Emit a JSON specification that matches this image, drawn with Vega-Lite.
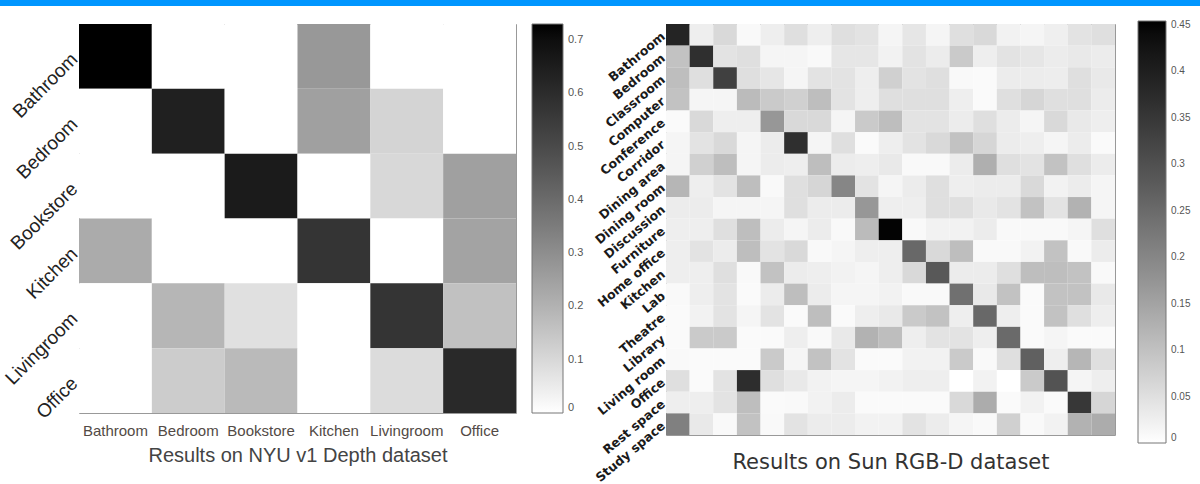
{
"$schema": "https://vega.github.io/schema/vega-lite/v6.json",
"padding": 0,
"background": "white",
"columns": 1,
"spacing": 14,
"config": {"font": "Liberation Sans", "view": {"stroke": "#999"}, "axis": {"grid": false}},
"datasets": {
"strip": [{"k": 1}],
"nyu": [
{"r":"Bathroom","c":"Bathroom","v":0.73},{"r":"Bathroom","c":"Bedroom","v":0},{"r":"Bathroom","c":"Bookstore","v":0},{"r":"Bathroom","c":"Kitchen","v":0.27},{"r":"Bathroom","c":"Livingroom","v":0},{"r":"Bathroom","c":"Office","v":0},
{"r":"Bedroom","c":"Bathroom","v":0},{"r":"Bedroom","c":"Bedroom","v":0.64},{"r":"Bedroom","c":"Bookstore","v":0},{"r":"Bedroom","c":"Kitchen","v":0.25},{"r":"Bedroom","c":"Livingroom","v":0.11},{"r":"Bedroom","c":"Office","v":0},
{"r":"Bookstore","c":"Bathroom","v":0},{"r":"Bookstore","c":"Bedroom","v":0},{"r":"Bookstore","c":"Bookstore","v":0.66},{"r":"Bookstore","c":"Kitchen","v":0},{"r":"Bookstore","c":"Livingroom","v":0.1},{"r":"Bookstore","c":"Office","v":0.25},
{"r":"Kitchen","c":"Bathroom","v":0.22},{"r":"Kitchen","c":"Bedroom","v":0},{"r":"Kitchen","c":"Bookstore","v":0},{"r":"Kitchen","c":"Kitchen","v":0.57},{"r":"Kitchen","c":"Livingroom","v":0},{"r":"Kitchen","c":"Office","v":0.24},
{"r":"Livingroom","c":"Bathroom","v":0},{"r":"Livingroom","c":"Bedroom","v":0.19},{"r":"Livingroom","c":"Bookstore","v":0.08},{"r":"Livingroom","c":"Kitchen","v":0},{"r":"Livingroom","c":"Livingroom","v":0.57},{"r":"Livingroom","c":"Office","v":0.16},
{"r":"Office","c":"Bathroom","v":0},{"r":"Office","c":"Bedroom","v":0.13},{"r":"Office","c":"Bookstore","v":0.18},{"r":"Office","c":"Kitchen","v":0},{"r":"Office","c":"Livingroom","v":0.09},{"r":"Office","c":"Office","v":0.61}
],
"sun": [
{"r":"Bathroom","c":"Bathroom","v":0.39},{"r":"Bathroom","c":"Bedroom","v":0.027},{"r":"Bathroom","c":"Classroom","v":0.06},{"r":"Bathroom","c":"Computer","v":0.01},{"r":"Bathroom","c":"Conference","v":0.027},{"r":"Bathroom","c":"Corridor","v":0.05},{"r":"Bathroom","c":"Dining area","v":0.027},{"r":"Bathroom","c":"Dining room","v":0.05},{"r":"Bathroom","c":"Discussion","v":0.045},{"r":"Bathroom","c":"Furniture","v":0.015},{"r":"Bathroom","c":"Home office","v":0.04},{"r":"Bathroom","c":"Kitchen","v":0.015},{"r":"Bathroom","c":"Lab","v":0.05},{"r":"Bathroom","c":"Theatre","v":0.06},{"r":"Bathroom","c":"Library","v":0.02},{"r":"Bathroom","c":"Living room","v":0.015},{"r":"Bathroom","c":"Office","v":0.025},{"r":"Bathroom","c":"Rest space","v":0.045},{"r":"Bathroom","c":"Study space","v":0.05},
{"r":"Bedroom","c":"Bathroom","v":0.098},{"r":"Bedroom","c":"Bedroom","v":0.366},{"r":"Bedroom","c":"Classroom","v":0.045},{"r":"Bedroom","c":"Computer","v":0.05},{"r":"Bedroom","c":"Conference","v":0.015},{"r":"Bedroom","c":"Corridor","v":0.015},{"r":"Bedroom","c":"Dining area","v":0.01},{"r":"Bedroom","c":"Dining room","v":0.04},{"r":"Bedroom","c":"Discussion","v":0.04},{"r":"Bedroom","c":"Furniture","v":0.02},{"r":"Bedroom","c":"Home office","v":0.045},{"r":"Bedroom","c":"Kitchen","v":0.03},{"r":"Bedroom","c":"Lab","v":0.085},{"r":"Bedroom","c":"Theatre","v":0.027},{"r":"Bedroom","c":"Library","v":0.045},{"r":"Bedroom","c":"Living room","v":0.04},{"r":"Bedroom","c":"Office","v":0.03},{"r":"Bedroom","c":"Rest space","v":0.035},{"r":"Bedroom","c":"Study space","v":0.03},
{"r":"Classroom","c":"Bathroom","v":0.105},{"r":"Classroom","c":"Bedroom","v":0.05},{"r":"Classroom","c":"Classroom","v":0.33},{"r":"Classroom","c":"Computer","v":0.05},{"r":"Classroom","c":"Conference","v":0.04},{"r":"Classroom","c":"Corridor","v":0.015},{"r":"Classroom","c":"Dining area","v":0.045},{"r":"Classroom","c":"Dining room","v":0.045},{"r":"Classroom","c":"Discussion","v":0.027},{"r":"Classroom","c":"Furniture","v":0.075},{"r":"Classroom","c":"Home office","v":0.045},{"r":"Classroom","c":"Kitchen","v":0.05},{"r":"Classroom","c":"Lab","v":0.01},{"r":"Classroom","c":"Theatre","v":0.008},{"r":"Classroom","c":"Library","v":0.03},{"r":"Classroom","c":"Living room","v":0.03},{"r":"Classroom","c":"Office","v":0.028},{"r":"Classroom","c":"Rest space","v":0.05},{"r":"Classroom","c":"Study space","v":0.035},
{"r":"Computer","c":"Bathroom","v":0.098},{"r":"Computer","c":"Bedroom","v":0.015},{"r":"Computer","c":"Classroom","v":0.015},{"r":"Computer","c":"Computer","v":0.11},{"r":"Computer","c":"Conference","v":0.085},{"r":"Computer","c":"Corridor","v":0.075},{"r":"Computer","c":"Dining area","v":0.105},{"r":"Computer","c":"Dining room","v":0.045},{"r":"Computer","c":"Discussion","v":0.027},{"r":"Computer","c":"Furniture","v":0.05},{"r":"Computer","c":"Home office","v":0.05},{"r":"Computer","c":"Kitchen","v":0.05},{"r":"Computer","c":"Lab","v":0.027},{"r":"Computer","c":"Theatre","v":0.008},{"r":"Computer","c":"Library","v":0.05},{"r":"Computer","c":"Living room","v":0.065},{"r":"Computer","c":"Office","v":0.05},{"r":"Computer","c":"Rest space","v":0.05},{"r":"Computer","c":"Study space","v":0.03},
{"r":"Conference","c":"Bathroom","v":0.008},{"r":"Conference","c":"Bedroom","v":0.06},{"r":"Conference","c":"Classroom","v":0.027},{"r":"Conference","c":"Computer","v":0.027},{"r":"Conference","c":"Conference","v":0.17},{"r":"Conference","c":"Corridor","v":0.06},{"r":"Conference","c":"Dining area","v":0.06},{"r":"Conference","c":"Dining room","v":0.015},{"r":"Conference","c":"Discussion","v":0.085},{"r":"Conference","c":"Furniture","v":0.105},{"r":"Conference","c":"Home office","v":0.045},{"r":"Conference","c":"Kitchen","v":0.045},{"r":"Conference","c":"Lab","v":0.03},{"r":"Conference","c":"Theatre","v":0.05},{"r":"Conference","c":"Library","v":0.03},{"r":"Conference","c":"Living room","v":0.015},{"r":"Conference","c":"Office","v":0.06},{"r":"Conference","c":"Rest space","v":0.035},{"r":"Conference","c":"Study space","v":0.027},
{"r":"Corridor","c":"Bathroom","v":0.015},{"r":"Corridor","c":"Bedroom","v":0.045},{"r":"Corridor","c":"Classroom","v":0.06},{"r":"Corridor","c":"Computer","v":0.015},{"r":"Corridor","c":"Conference","v":0.03},{"r":"Corridor","c":"Corridor","v":0.366},{"r":"Corridor","c":"Dining area","v":0.015},{"r":"Corridor","c":"Dining room","v":0.05},{"r":"Corridor","c":"Discussion","v":0.008},{"r":"Corridor","c":"Furniture","v":0.027},{"r":"Corridor","c":"Home office","v":0.045},{"r":"Corridor","c":"Kitchen","v":0.06},{"r":"Corridor","c":"Lab","v":0.098},{"r":"Corridor","c":"Theatre","v":0.065},{"r":"Corridor","c":"Library","v":0.03},{"r":"Corridor","c":"Living room","v":0.027},{"r":"Corridor","c":"Office","v":0.015},{"r":"Corridor","c":"Rest space","v":0.03},{"r":"Corridor","c":"Study space","v":0.008},
{"r":"Dining area","c":"Bathroom","v":0.015},{"r":"Dining area","c":"Bedroom","v":0.075},{"r":"Dining area","c":"Classroom","v":0.105},{"r":"Dining area","c":"Computer","v":0.015},{"r":"Dining area","c":"Conference","v":0.03},{"r":"Dining area","c":"Corridor","v":0.027},{"r":"Dining area","c":"Dining area","v":0.105},{"r":"Dining area","c":"Dining room","v":0.03},{"r":"Dining area","c":"Discussion","v":0.027},{"r":"Dining area","c":"Furniture","v":0.035},{"r":"Dining area","c":"Home office","v":0.01},{"r":"Dining area","c":"Kitchen","v":0.01},{"r":"Dining area","c":"Lab","v":0.03},{"r":"Dining area","c":"Theatre","v":0.13},{"r":"Dining area","c":"Library","v":0.05},{"r":"Dining area","c":"Living room","v":0.045},{"r":"Dining area","c":"Office","v":0.098},{"r":"Dining area","c":"Rest space","v":0.05},{"r":"Dining area","c":"Study space","v":0.03},
{"r":"Dining room","c":"Bathroom","v":0.118},{"r":"Dining room","c":"Bedroom","v":0.027},{"r":"Dining room","c":"Classroom","v":0.045},{"r":"Dining room","c":"Computer","v":0.105},{"r":"Dining room","c":"Conference","v":0.01},{"r":"Dining room","c":"Corridor","v":0.05},{"r":"Dining room","c":"Dining area","v":0.065},{"r":"Dining room","c":"Dining room","v":0.2},{"r":"Dining room","c":"Discussion","v":0.045},{"r":"Dining room","c":"Furniture","v":0.015},{"r":"Dining room","c":"Home office","v":0.03},{"r":"Dining room","c":"Kitchen","v":0.05},{"r":"Dining room","c":"Lab","v":0.027},{"r":"Dining room","c":"Theatre","v":0.03},{"r":"Dining room","c":"Library","v":0.03},{"r":"Dining room","c":"Living room","v":0.06},{"r":"Dining room","c":"Office","v":0.02},{"r":"Dining room","c":"Rest space","v":0.03},{"r":"Dining room","c":"Study space","v":0.015},
{"r":"Discussion","c":"Bathroom","v":0.03},{"r":"Discussion","c":"Bedroom","v":0.03},{"r":"Discussion","c":"Classroom","v":0.015},{"r":"Discussion","c":"Computer","v":0.015},{"r":"Discussion","c":"Conference","v":0.015},{"r":"Discussion","c":"Corridor","v":0.05},{"r":"Discussion","c":"Dining area","v":0.03},{"r":"Discussion","c":"Dining room","v":0.03},{"r":"Discussion","c":"Discussion","v":0.17},{"r":"Discussion","c":"Furniture","v":0.027},{"r":"Discussion","c":"Home office","v":0.027},{"r":"Discussion","c":"Kitchen","v":0.05},{"r":"Discussion","c":"Lab","v":0.05},{"r":"Discussion","c":"Theatre","v":0.035},{"r":"Discussion","c":"Library","v":0.045},{"r":"Discussion","c":"Living room","v":0.098},{"r":"Discussion","c":"Office","v":0.045},{"r":"Discussion","c":"Rest space","v":0.125},{"r":"Discussion","c":"Study space","v":0.015},
{"r":"Furniture","c":"Bathroom","v":0.027},{"r":"Furniture","c":"Bedroom","v":0.027},{"r":"Furniture","c":"Classroom","v":0.05},{"r":"Furniture","c":"Computer","v":0.105},{"r":"Furniture","c":"Conference","v":0.03},{"r":"Furniture","c":"Corridor","v":0.015},{"r":"Furniture","c":"Dining area","v":0.03},{"r":"Furniture","c":"Dining room","v":0.01},{"r":"Furniture","c":"Discussion","v":0.11},{"r":"Furniture","c":"Furniture","v":0.45},{"r":"Furniture","c":"Home office","v":0.01},{"r":"Furniture","c":"Kitchen","v":0.02},{"r":"Furniture","c":"Lab","v":0.02},{"r":"Furniture","c":"Theatre","v":0.03},{"r":"Furniture","c":"Library","v":0.01},{"r":"Furniture","c":"Living room","v":0.01},{"r":"Furniture","c":"Office","v":0.01},{"r":"Furniture","c":"Rest space","v":0.015},{"r":"Furniture","c":"Study space","v":0.05},
{"r":"Home office","c":"Bathroom","v":0.027},{"r":"Home office","c":"Bedroom","v":0.045},{"r":"Home office","c":"Classroom","v":0.03},{"r":"Home office","c":"Computer","v":0.105},{"r":"Home office","c":"Conference","v":0.045},{"r":"Home office","c":"Corridor","v":0.06},{"r":"Home office","c":"Dining area","v":0.01},{"r":"Home office","c":"Dining room","v":0.015},{"r":"Home office","c":"Discussion","v":0.027},{"r":"Home office","c":"Furniture","v":0.027},{"r":"Home office","c":"Home office","v":0.255},{"r":"Home office","c":"Kitchen","v":0.06},{"r":"Home office","c":"Lab","v":0.105},{"r":"Home office","c":"Theatre","v":0.01},{"r":"Home office","c":"Library","v":0.01},{"r":"Home office","c":"Living room","v":0.02},{"r":"Home office","c":"Office","v":0.098},{"r":"Home office","c":"Rest space","v":0.01},{"r":"Home office","c":"Study space","v":0.03},
{"r":"Kitchen","c":"Bathroom","v":0.027},{"r":"Kitchen","c":"Bedroom","v":0.027},{"r":"Kitchen","c":"Classroom","v":0.05},{"r":"Kitchen","c":"Computer","v":0.01},{"r":"Kitchen","c":"Conference","v":0.098},{"r":"Kitchen","c":"Corridor","v":0.03},{"r":"Kitchen","c":"Dining area","v":0.027},{"r":"Kitchen","c":"Dining room","v":0.02},{"r":"Kitchen","c":"Discussion","v":0.015},{"r":"Kitchen","c":"Furniture","v":0.027},{"r":"Kitchen","c":"Home office","v":0.06},{"r":"Kitchen","c":"Kitchen","v":0.285},{"r":"Kitchen","c":"Lab","v":0.03},{"r":"Kitchen","c":"Theatre","v":0.03},{"r":"Kitchen","c":"Library","v":0.05},{"r":"Kitchen","c":"Living room","v":0.105},{"r":"Kitchen","c":"Office","v":0.105},{"r":"Kitchen","c":"Rest space","v":0.098},{"r":"Kitchen","c":"Study space","v":0.01},
{"r":"Lab","c":"Bathroom","v":0.01},{"r":"Lab","c":"Bedroom","v":0.027},{"r":"Lab","c":"Classroom","v":0.045},{"r":"Lab","c":"Computer","v":0.008},{"r":"Lab","c":"Conference","v":0.03},{"r":"Lab","c":"Corridor","v":0.105},{"r":"Lab","c":"Dining area","v":0.03},{"r":"Lab","c":"Dining room","v":0.015},{"r":"Lab","c":"Discussion","v":0.015},{"r":"Lab","c":"Furniture","v":0.02},{"r":"Lab","c":"Home office","v":0.01},{"r":"Lab","c":"Kitchen","v":0.01},{"r":"Lab","c":"Lab","v":0.24},{"r":"Lab","c":"Theatre","v":0.035},{"r":"Lab","c":"Library","v":0.098},{"r":"Lab","c":"Living room","v":0.008},{"r":"Lab","c":"Office","v":0.098},{"r":"Lab","c":"Rest space","v":0.098},{"r":"Lab","c":"Study space","v":0.035},
{"r":"Theatre","c":"Bathroom","v":0.008},{"r":"Theatre","c":"Bedroom","v":0.02},{"r":"Theatre","c":"Classroom","v":0.045},{"r":"Theatre","c":"Computer","v":0.015},{"r":"Theatre","c":"Conference","v":0.045},{"r":"Theatre","c":"Corridor","v":0.008},{"r":"Theatre","c":"Dining area","v":0.105},{"r":"Theatre","c":"Dining room","v":0.008},{"r":"Theatre","c":"Discussion","v":0.027},{"r":"Theatre","c":"Furniture","v":0.035},{"r":"Theatre","c":"Home office","v":0.085},{"r":"Theatre","c":"Kitchen","v":0.098},{"r":"Theatre","c":"Lab","v":0.027},{"r":"Theatre","c":"Theatre","v":0.255},{"r":"Theatre","c":"Library","v":0.027},{"r":"Theatre","c":"Living room","v":0.008},{"r":"Theatre","c":"Office","v":0.098},{"r":"Theatre","c":"Rest space","v":0.05},{"r":"Theatre","c":"Study space","v":0.027},
{"r":"Library","c":"Bathroom","v":0.008},{"r":"Library","c":"Bedroom","v":0.085},{"r":"Library","c":"Classroom","v":0.085},{"r":"Library","c":"Computer","v":0.008},{"r":"Library","c":"Conference","v":0.008},{"r":"Library","c":"Corridor","v":0.027},{"r":"Library","c":"Dining area","v":0.01},{"r":"Library","c":"Dining room","v":0.035},{"r":"Library","c":"Discussion","v":0.125},{"r":"Library","c":"Furniture","v":0.105},{"r":"Library","c":"Home office","v":0.027},{"r":"Library","c":"Kitchen","v":0.045},{"r":"Library","c":"Lab","v":0.045},{"r":"Library","c":"Theatre","v":0.027},{"r":"Library","c":"Library","v":0.25},{"r":"Library","c":"Living room","v":0.008},{"r":"Library","c":"Office","v":0.015},{"r":"Library","c":"Rest space","v":0.008},{"r":"Library","c":"Study space","v":0.008},
{"r":"Living room","c":"Bathroom","v":0.01},{"r":"Living room","c":"Bedroom","v":0.008},{"r":"Living room","c":"Classroom","v":0.008},{"r":"Living room","c":"Computer","v":0.008},{"r":"Living room","c":"Conference","v":0.085},{"r":"Living room","c":"Corridor","v":0.015},{"r":"Living room","c":"Dining area","v":0.098},{"r":"Living room","c":"Dining room","v":0.045},{"r":"Living room","c":"Discussion","v":0.008},{"r":"Living room","c":"Furniture","v":0.008},{"r":"Living room","c":"Home office","v":0.02},{"r":"Living room","c":"Kitchen","v":0.02},{"r":"Living room","c":"Lab","v":0.085},{"r":"Living room","c":"Theatre","v":0.01},{"r":"Living room","c":"Library","v":0.05},{"r":"Living room","c":"Living room","v":0.27},{"r":"Living room","c":"Office","v":0.027},{"r":"Living room","c":"Rest space","v":0.118},{"r":"Living room","c":"Study space","v":0.05},
{"r":"Office","c":"Bathroom","v":0.05},{"r":"Office","c":"Bedroom","v":0.008},{"r":"Office","c":"Classroom","v":0.045},{"r":"Office","c":"Computer","v":0.37},{"r":"Office","c":"Conference","v":0.05},{"r":"Office","c":"Corridor","v":0.035},{"r":"Office","c":"Dining area","v":0.02},{"r":"Office","c":"Dining room","v":0.015},{"r":"Office","c":"Discussion","v":0.015},{"r":"Office","c":"Furniture","v":0.02},{"r":"Office","c":"Home office","v":0.027},{"r":"Office","c":"Kitchen","v":0.027},{"r":"Office","c":"Lab","v":0},{"r":"Office","c":"Theatre","v":0.02},{"r":"Office","c":"Library","v":0},{"r":"Office","c":"Living room","v":0.085},{"r":"Office","c":"Office","v":0.294},{"r":"Office","c":"Rest space","v":0.015},{"r":"Office","c":"Study space","v":0.027},
{"r":"Rest space","c":"Bathroom","v":0.027},{"r":"Rest space","c":"Bedroom","v":0.027},{"r":"Rest space","c":"Classroom","v":0.045},{"r":"Rest space","c":"Computer","v":0.105},{"r":"Rest space","c":"Conference","v":0.008},{"r":"Rest space","c":"Corridor","v":0.01},{"r":"Rest space","c":"Dining area","v":0.02},{"r":"Rest space","c":"Dining room","v":0.03},{"r":"Rest space","c":"Discussion","v":0.008},{"r":"Rest space","c":"Furniture","v":0.008},{"r":"Rest space","c":"Home office","v":0.008},{"r":"Rest space","c":"Kitchen","v":0.008},{"r":"Rest space","c":"Lab","v":0.06},{"r":"Rest space","c":"Theatre","v":0.135},{"r":"Rest space","c":"Library","v":0.008},{"r":"Rest space","c":"Living room","v":0.02},{"r":"Rest space","c":"Office","v":0.008},{"r":"Rest space","c":"Rest space","v":0.35},{"r":"Rest space","c":"Study space","v":0.065},
{"r":"Study space","c":"Bathroom","v":0.21},{"r":"Study space","c":"Bedroom","v":0.035},{"r":"Study space","c":"Classroom","v":0.01},{"r":"Study space","c":"Computer","v":0.098},{"r":"Study space","c":"Conference","v":0.01},{"r":"Study space","c":"Corridor","v":0.045},{"r":"Study space","c":"Dining area","v":0.03},{"r":"Study space","c":"Dining room","v":0.03},{"r":"Study space","c":"Discussion","v":0.02},{"r":"Study space","c":"Furniture","v":0.02},{"r":"Study space","c":"Home office","v":0.045},{"r":"Study space","c":"Kitchen","v":0.03},{"r":"Study space","c":"Lab","v":0.015},{"r":"Study space","c":"Theatre","v":0.01},{"r":"Study space","c":"Library","v":0.075},{"r":"Study space","c":"Living room","v":0.01},{"r":"Study space","c":"Office","v":0.02},{"r":"Study space","c":"Rest space","v":0.125},{"r":"Study space","c":"Study space","v":0.135}
]
},
"concat": [
{"width": 1200, "height": 6, "data": {"name": "strip"}, "view": {"stroke": null, "fill": "#0096ff"}, "mark": {"type": "rect", "color": "#0096ff"}, "encoding": {}},
{"hconcat": [
{"width": 1, "height": 1, "data": {"name": "strip"}, "view": {"stroke": null}, "mark": {"type": "rect", "opacity": 0}, "encoding": {}},
{"hconcat": [
{"width": 437, "height": 389, "data": {"name": "nyu"},
 "mark": {"type": "rect"},
 "encoding": {
  "x": {"field": "c", "type": "nominal", "sort": null, "axis": {"title": "Results on NYU v1 Depth dataset", "labelAngle": 0, "labelFontSize": 15, "labelColor": "#524a45", "ticks": false, "tickSize": 0, "domain": false, "labelPadding": 10, "titleFontSize": 20, "titleFontWeight": "normal", "titleColor": "#444", "titlePadding": 7, "labelOverlap": false}},
  "y": {"field": "r", "type": "nominal", "sort": null, "axis": {"title": null, "labelAngle": -45, "labelAlign": "right", "labelBaseline": "middle", "labelFontSize": 19, "labelColor": "#222", "ticks": false, "tickSize": 0, "domain": false, "labelPadding": 5, "labelOverlap": false}},
  "color": {"field": "v", "type": "quantitative", "scale": {"domain": [0, 0.73], "range": ["#ffffff", "#000000"]},
   "legend": {"title": null, "orient": "none", "legendX": 453, "legendY": 0, "direction": "vertical", "gradientLength": 389, "gradientThickness": 31, "gradientStrokeColor": "#777", "gradientStrokeWidth": 1, "values": [0, 0.1, 0.2, 0.3, 0.4, 0.5, 0.6, 0.7], "format": "~g", "labelFontSize": 11, "labelColor": "#555", "labelOverlap": false, "labelOffset": 5}}
 }},
{"width": 449, "height": 411, "data": {"name": "sun"},
 "mark": {"type": "rect"},
 "encoding": {
  "x": {"field": "c", "type": "nominal", "sort": null, "axis": {"title": "Results on Sun RGB-D dataset", "labels": false, "ticks": false, "tickSize": 0, "domain": false, "minExtent": 0, "titleFont": "DejaVu Sans", "titleFontSize": 21, "titleFontWeight": "normal", "titleColor": "#333", "titlePadding": 16}},
  "y": {"field": "r", "type": "nominal", "sort": null, "axis": {"title": null, "labelAngle": -40, "labelAlign": "right", "labelBaseline": "middle", "labelFont": "DejaVu Sans", "labelFontSize": 12.5, "labelFontWeight": "bold", "labelColor": "#1a1a1a", "ticks": false, "tickSize": 0, "domain": false, "labelPadding": 3, "labelOverlap": false}},
  "color": {"field": "v", "type": "quantitative", "scale": {"domain": [0, 0.454], "range": ["#ffffff", "#000000"]},
   "legend": {"title": null, "orient": "none", "legendX": 472, "legendY": -3, "direction": "vertical", "gradientLength": 422, "gradientThickness": 28, "gradientStrokeColor": "#777", "gradientStrokeWidth": 1, "values": [0, 0.05, 0.1, 0.15, 0.2, 0.25, 0.3, 0.35, 0.4, 0.45], "format": "~g", "labelFontSize": 10, "labelColor": "#555", "labelOverlap": false, "labelOffset": 5}}
 }}
], "bounds": "flush", "spacing": 150, "resolve": {"scale": {"color": "independent"}, "legend": {"color": "independent"}}}
], "spacing": 0, "resolve": {"scale": {"color": "independent"}, "legend": {"color": "independent"}}}
]
}
